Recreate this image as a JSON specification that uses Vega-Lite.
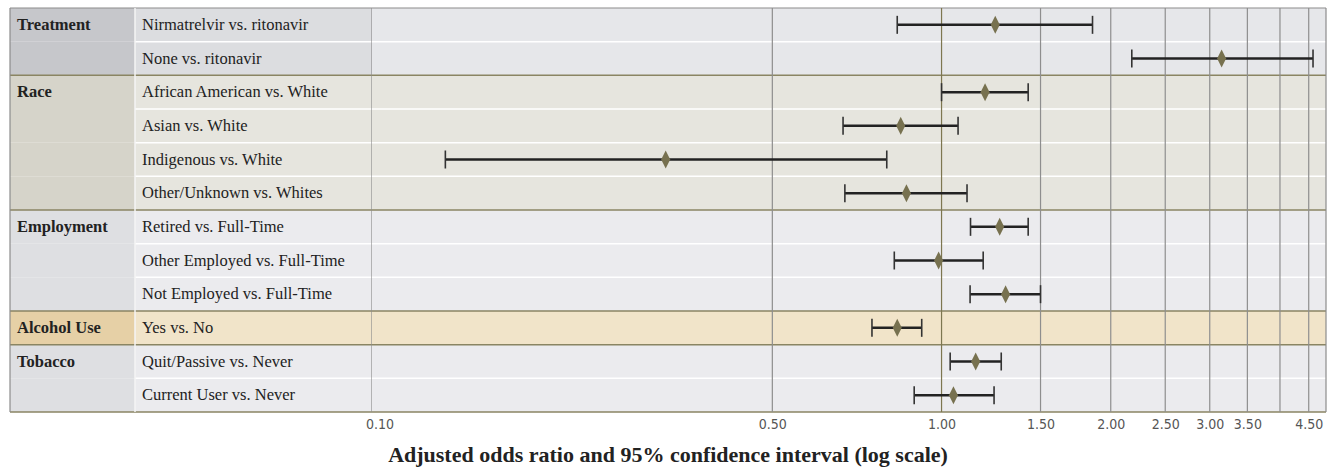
{
  "$schema": "https://vega.github.io/schema/vega-lite/v6.json",
  "background": "white",
  "padding": {"left": 9, "top": 7, "right": 12, "bottom": 2},
  "spacing": 0,
  "bounds": "flush",
  "config": {
    "view": {"stroke": null},
    "font": "Liberation Serif"
  },
  "title": {
    "text": "Adjusted odds ratio and 95% confidence interval (log scale)",
    "orient": "bottom",
    "anchor": "middle",
    "font": "Liberation Serif",
    "fontSize": 22,
    "fontWeight": "bold",
    "color": "#222222",
    "offset": 14
  },
  "datasets": {
    "rows": [
      {"order": 0, "group": "Treatment", "label": "Nirmatrelvir vs. ritonavir", "or": 1.246, "lo": 0.834, "hi": 1.856},
      {"order": 1, "group": "Treatment", "label": "None vs. ritonavir", "or": 3.15, "lo": 2.18, "hi": 4.58},
      {"order": 2, "group": "Race", "label": "African American vs. White", "or": 1.195, "lo": 1.0, "hi": 1.426},
      {"order": 3, "group": "Race", "label": "Asian vs. White", "or": 0.846, "lo": 0.668, "hi": 1.07},
      {"order": 4, "group": "Race", "label": "Indigenous vs. White", "or": 0.323, "lo": 0.131, "hi": 0.799},
      {"order": 5, "group": "Race", "label": "Other/Unknown vs. Whites", "or": 0.866, "lo": 0.673, "hi": 1.11},
      {"order": 6, "group": "Employment", "label": "Retired vs. Full-Time", "or": 1.269, "lo": 1.126, "hi": 1.426},
      {"order": 7, "group": "Employment", "label": "Other Employed vs. Full-Time", "or": 0.988, "lo": 0.824, "hi": 1.186},
      {"order": 8, "group": "Employment", "label": "Not Employed vs. Full-Time", "or": 1.30, "lo": 1.124, "hi": 1.50},
      {"order": 9, "group": "Alcohol Use", "label": "Yes vs. No", "or": 0.834, "lo": 0.752, "hi": 0.922},
      {"order": 10, "group": "Tobacco", "label": "Quit/Passive vs. Never", "or": 1.150, "lo": 1.036, "hi": 1.277},
      {"order": 11, "group": "Tobacco", "label": "Current User vs. Never", "or": 1.05, "lo": 0.894, "hi": 1.24}
    ],
    "grid": [
      {"v": 0.5}, {"v": 1.0}, {"v": 1.5}, {"v": 2.0}, {"v": 2.5}, {"v": 3.0}, {"v": 3.5}, {"v": 4.0}, {"v": 4.5}
    ]
  },
  "resolve": {"scale": {"x": "independent", "y": "shared", "fill": "independent"}},
  "hconcat": [
    {
      "width": 125,
      "height": 404,
      "data": {"name": "rows"},
      "transform": [
        {"window": [{"op": "row_number", "as": "rk"}], "groupby": ["group"], "sort": [{"field": "order"}]}
      ],
      "layer": [
        {
          "mark": {"type": "rect"},
          "encoding": {
            "y": {"field": "label", "type": "nominal", "sort": {"field": "order"}, "scale": {"paddingInner": 0, "paddingOuter": 0}, "axis": null},
            "fill": {"field": "group", "type": "nominal", "legend": null,
              "scale": {"domain": ["Treatment", "Race", "Employment", "Alcohol Use", "Tobacco"],
                        "range": ["#c6c7cb", "#d6d4ca", "#dedfe2", "#e6d0a6", "#dedfe2"]}}
          }
        },
        {
          "transform": [{"filter": "datum.rk == 1 && datum.order > 0"}],
          "mark": {"type": "rule", "color": "#8a8563", "strokeWidth": 1.5},
          "encoding": {
            "y": {"field": "label", "type": "nominal", "sort": {"field": "order"}, "bandPosition": 0}
          }
        },
        {
          "transform": [{"filter": "datum.order == 0"}],
          "mark": {"type": "rule", "color": "#8c8c8c", "strokeWidth": 1.2},
          "encoding": {
            "y": {"field": "label", "type": "nominal", "sort": {"field": "order"}, "bandPosition": 0}
          }
        },
        {
          "transform": [{"filter": "datum.order == 11"}],
          "mark": {"type": "rule", "color": "#8a8563", "strokeWidth": 1.5},
          "encoding": {
            "y": {"field": "label", "type": "nominal", "sort": {"field": "order"}, "bandPosition": 1}
          }
        },
        {
          "transform": [{"filter": "datum.order == 0"}],
          "mark": {"type": "rule", "color": "#8c8c8c", "strokeWidth": 1.2},
          "encoding": {
            "x": {"datum": 0, "type": "quantitative", "scale": {"domain": [0, 1]}, "axis": null}
          }
        },
        {
          "transform": [{"filter": "datum.rk == 1"}],
          "mark": {"type": "text", "align": "left", "baseline": "middle", "dx": 7, "fontSize": 16.5, "fontWeight": "bold", "color": "#222222", "font": "Liberation Serif"},
          "encoding": {
            "x": {"datum": 0, "type": "quantitative", "scale": {"domain": [0, 1]}, "axis": null},
            "y": {"field": "label", "type": "nominal", "sort": {"field": "order"}},
            "text": {"field": "group"}
          }
        }
      ]
    },
    {
      "width": 237,
      "height": 404,
      "data": {"name": "rows"},
      "transform": [
        {"window": [{"op": "row_number", "as": "rk"}], "groupby": ["group"], "sort": [{"field": "order"}]}
      ],
      "layer": [
        {
          "mark": {"type": "rect"},
          "encoding": {
            "y": {"field": "label", "type": "nominal", "sort": {"field": "order"}, "scale": {"paddingInner": 0, "paddingOuter": 0}, "axis": null},
            "fill": {"field": "group", "type": "nominal", "legend": null,
              "scale": {"domain": ["Treatment", "Race", "Employment", "Alcohol Use", "Tobacco"],
                        "range": ["#dcdde0", "#e6e5de", "#ebebee", "#f1e4c9", "#ebebee"]}}
          }
        },
        {
          "transform": [{"filter": "datum.rk > 1"}],
          "mark": {"type": "rule", "color": "#ffffff", "strokeWidth": 1.5},
          "encoding": {
            "y": {"field": "label", "type": "nominal", "sort": {"field": "order"}, "bandPosition": 0}
          }
        },
        {
          "transform": [{"filter": "datum.rk == 1 && datum.order > 0"}],
          "mark": {"type": "rule", "color": "#8a8563", "strokeWidth": 1.5},
          "encoding": {
            "y": {"field": "label", "type": "nominal", "sort": {"field": "order"}, "bandPosition": 0}
          }
        },
        {
          "transform": [{"filter": "datum.order == 0"}],
          "mark": {"type": "rule", "color": "#8c8c8c", "strokeWidth": 1.2},
          "encoding": {
            "y": {"field": "label", "type": "nominal", "sort": {"field": "order"}, "bandPosition": 0}
          }
        },
        {
          "transform": [{"filter": "datum.order == 11"}],
          "mark": {"type": "rule", "color": "#8a8563", "strokeWidth": 1.5},
          "encoding": {
            "y": {"field": "label", "type": "nominal", "sort": {"field": "order"}, "bandPosition": 1}
          }
        },
        {
          "transform": [{"filter": "datum.order == 0"}],
          "mark": {"type": "rule", "color": "#f4f4f4", "strokeWidth": 1.5},
          "encoding": {
            "x": {"datum": 0, "type": "quantitative", "scale": {"domain": [0, 1]}, "axis": null}
          }
        },
        {
          "transform": [{"filter": "datum.order == 0"}],
          "mark": {"type": "rule", "color": "#8c8c8c", "strokeWidth": 1.2},
          "encoding": {
            "x": {"datum": 1, "type": "quantitative", "scale": {"domain": [0, 1]}, "axis": null}
          }
        },
        {
          "mark": {"type": "text", "align": "left", "baseline": "middle", "dx": 7, "fontSize": 16.5, "color": "#222222", "font": "Liberation Serif"},
          "encoding": {
            "x": {"datum": 0, "type": "quantitative", "scale": {"domain": [0, 1]}, "axis": null},
            "y": {"field": "label", "type": "nominal", "sort": {"field": "order"}},
            "text": {"field": "label"}
          }
        }
      ]
    },
    {
      "width": 954,
      "height": 404,
      "layer": [
        {
          "data": {"name": "rows"},
          "mark": {"type": "rect"},
          "encoding": {
            "y": {"field": "label", "type": "nominal", "sort": {"field": "order"}, "scale": {"paddingInner": 0, "paddingOuter": 0}, "axis": null},
            "fill": {"field": "group", "type": "nominal", "legend": null,
              "scale": {"domain": ["Treatment", "Race", "Employment", "Alcohol Use", "Tobacco"],
                        "range": ["#e6e7ea", "#e6e5de", "#ebebee", "#f1e4c9", "#ebebee"]}}
          }
        },
        {
          "data": {"name": "rows"},
          "transform": [
            {"window": [{"op": "row_number", "as": "rk"}], "groupby": ["group"], "sort": [{"field": "order"}]},
            {"filter": "datum.rk > 1"}
          ],
          "mark": {"type": "rule", "color": "#ffffff", "strokeWidth": 1.5},
          "encoding": {
            "y": {"field": "label", "type": "nominal", "sort": {"field": "order"}, "bandPosition": 0}
          }
        },
        {
          "data": {"name": "rows"},
          "transform": [
            {"window": [{"op": "row_number", "as": "rk"}], "groupby": ["group"], "sort": [{"field": "order"}]},
            {"filter": "datum.rk == 1 && datum.order > 0"}
          ],
          "mark": {"type": "rule", "color": "#8a8563", "strokeWidth": 1.5},
          "encoding": {
            "y": {"field": "label", "type": "nominal", "sort": {"field": "order"}, "bandPosition": 0}
          }
        },
        {
          "data": {"name": "rows"},
          "transform": [{"filter": "datum.order == 0"}],
          "mark": {"type": "rule", "color": "#8c8c8c", "strokeWidth": 1.2},
          "encoding": {
            "y": {"field": "label", "type": "nominal", "sort": {"field": "order"}, "bandPosition": 0}
          }
        },
        {
          "data": {"name": "rows"},
          "transform": [{"filter": "datum.order == 11"}],
          "mark": {"type": "rule", "color": "#8a8563", "strokeWidth": 1.5},
          "encoding": {
            "y": {"field": "label", "type": "nominal", "sort": {"field": "order"}, "bandPosition": 1}
          }
        },
        {
          "data": {"name": "grid"},
          "mark": {"type": "rule", "strokeWidth": 1.2},
          "encoding": {
            "x": {"field": "v", "type": "quantitative"},
            "color": {"condition": {"test": "datum.v == 1", "value": "#7d7650"}, "value": "#8e8e8e"}
          }
        },
        {
          "data": {"name": "rows"},
          "transform": [{"filter": "datum.order == 0"}],
          "mark": {"type": "rule", "color": "#8c8c8c", "strokeWidth": 1.2},
          "encoding": {
            "x": {"datum": 4.83, "type": "quantitative"}
          }
        },
        {
          "data": {"name": "rows"},
          "mark": {"type": "rule", "color": "#222222", "strokeWidth": 2.5},
          "encoding": {
            "x": {"field": "lo", "type": "quantitative"},
            "x2": {"field": "hi"},
            "y": {"field": "label", "type": "nominal", "sort": {"field": "order"}}
          }
        },
        {
          "data": {"name": "rows"},
          "mark": {"type": "tick", "color": "#333333", "thickness": 1.6, "size": 18, "orient": "vertical", "opacity": 1},
          "encoding": {
            "x": {"field": "lo", "type": "quantitative"},
            "y": {"field": "label", "type": "nominal", "sort": {"field": "order"}}
          }
        },
        {
          "data": {"name": "rows"},
          "mark": {"type": "tick", "color": "#333333", "thickness": 1.6, "size": 18, "orient": "vertical", "opacity": 1},
          "encoding": {
            "x": {"field": "hi", "type": "quantitative"},
            "y": {"field": "label", "type": "nominal", "sort": {"field": "order"}}
          }
        },
        {
          "data": {"name": "rows"},
          "mark": {"type": "point", "shape": "M0,-1L0.5,0L0,1L-0.5,0Z", "filled": true, "size": 324, "color": "#77714f", "opacity": 1},
          "encoding": {
            "x": {
              "field": "or", "type": "quantitative",
              "scale": {"type": "log", "domain": [0.097, 4.83], "nice": false, "zero": false},
              "axis": {
                "values": [0.1, 0.5, 1, 1.5, 2, 2.5, 3, 3.5, 4.5],
                "format": ".2f",
                "grid": false, "ticks": false, "domain": false,
                "labelFont": "Liberation Sans Narrow, DejaVu Sans Condensed, sans-serif",
                "labelFontSize": 14,
                "labelColor": "#555555",
                "labelPadding": 5,
                "labelOverlap": false,
                "labelFlush": false,
                "title": null
              }
            },
            "y": {"field": "label", "type": "nominal", "sort": {"field": "order"}}
          }
        }
      ]
    }
  ]
}
